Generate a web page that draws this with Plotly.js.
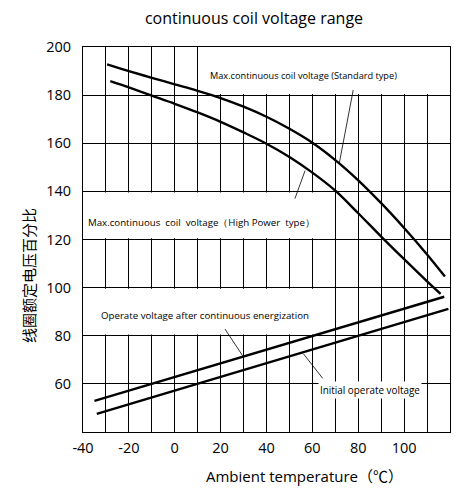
<!DOCTYPE html>
<html>
<head>
<meta charset="utf-8">
<script src="https://cdn.plot.ly/plotly-3.0.1.min.js"></script>
<style>html,body{margin:0;padding:0;background:#fff;}#chart{width:462px;height:488px;}</style>
</head>
<body>
<div id="chart"></div>
<script>
// Max. continuous coil voltage (Standard type)
const stdX = [-29.5, -20, -10, 0, 10, 20, 30, 40, 50, 60, 70, 80, 90, 100, 110, 117.8];
const stdY = [192.8, 190.0, 187.2, 184.5, 181.8, 178.8, 175.2, 171.0, 166.0, 160.2, 153.0, 144.6, 135.1, 124.8, 113.8, 104.6];
// Max. continuous coil voltage (High Power type)
const hpX = [-28.1, -20, -10, 0, 10, 20, 30, 40, 50, 60, 70, 80, 90, 100, 110, 115.9];
const hpY = [185.8, 183.2, 179.8, 176.4, 172.8, 168.9, 164.5, 159.8, 154.3, 147.8, 140.3, 130.9, 121.2, 111.8, 102.6, 97.4];
// Operate voltage after continuous energization
const opContX = [-35, -10, 20, 60, 117.5];
const opContY = [52.9, 60, 68.5, 80, 96.2];
// Initial operate voltage
const opInitX = [-34, 10, 40, 80, 119.3];
const opInitY = [47.5, 60, 68.5, 80, 91.2];

const xTicks = [-40, -20, 0, 20, 40, 60, 80, 100, 120];
const yTicks = [60, 80, 100, 120, 140, 160, 180, 200];

const labels = [
  {text: 'Max.continuous coil voltage (Standard type)', x: 56.1, y: 188.3, size: 9.2},
  {text: 'Max.continuous  coil  voltage（High Power  type）', x: 11.6, y: 126.9, size: 9.7},
  {text: 'Operate voltage after continuous energization', x: 13.3, y: 88.3, size: 9.7},
  {text: 'Initial operate voltage', x: 85.1, y: 57.4, size: 9.9, bg: true}
];
// leader lines [x0, y0, x1, y1]
const leaders = [
  [77.8, 182.1, 71.7, 151.5],
  [52.4, 137.0, 56.8, 148.6],
  [21.9, 82.8, 29.6, 71.7],
  [56.1, 72.5, 64.5, 62.3]
];
// white boxes behind labels [x0, x1, y0, y1]
const boxes = [
  [10.4, 120, 180.5, 200],
  [-40, 69.6, 120.5, 139.5],
  [-40, 69.6, 80.5, 99.5]
];

const lineStyle = {color: '#000', width: 2.4};
const traces = [
  {x: stdX, y: stdY, mode: 'lines', line: Object.assign({shape: 'spline', smoothing: 1}, lineStyle), name: 'Standard', hoverinfo: 'skip'},
  {x: hpX, y: hpY, mode: 'lines', line: Object.assign({shape: 'spline', smoothing: 1}, lineStyle), name: 'High Power', hoverinfo: 'skip'},
  {x: opContX, y: opContY, mode: 'lines', line: lineStyle, name: 'Operate', hoverinfo: 'skip'},
  {x: opInitX, y: opInitY, mode: 'lines', line: lineStyle, name: 'Initial', hoverinfo: 'skip'}
];

const font = '"Open Sans", "Noto Sans", sans-serif';
const shapes = [];
boxes.forEach(b => shapes.push({type: 'rect', xref: 'x', yref: 'y', x0: b[0], x1: b[1], y0: b[2], y1: b[3],
  fillcolor: '#fff', line: {width: 0}, layer: 'between'}));
leaders.forEach(l => shapes.push({type: 'line', xref: 'x', yref: 'y', x0: l[0], y0: l[1], x1: l[2], y1: l[3],
  line: {color: '#000', width: 0.8}}));

const annotations = labels.map(a => ({
  text: a.text, x: a.x, y: a.y, xref: 'x', yref: 'y', showarrow: false,
  font: {family: font, size: a.size, color: '#000'},
  bgcolor: a.bg ? '#fff' : 'rgba(0,0,0,0)', borderpad: 1
}));
annotations.push({
  text: 'Ambient temperature（℃）', xref: 'paper', yref: 'paper', x: (304 - 83) / 367, y: -(475 - 431) / 385,
  xanchor: 'center', yanchor: 'middle', showarrow: false,
  font: {family: '"Open Sans", "Noto Sans CJK SC", sans-serif', size: 15, color: '#000'}
});
annotations.push({
  text: '线圈额定电压百分比', xref: 'paper', yref: 'paper', x: -(83 - 28) / 367, y: (431 - 275) / 385,
  xanchor: 'center', yanchor: 'middle', showarrow: false, textangle: -90,
  font: {family: '"Noto Sans CJK SC", sans-serif', size: 15, color: '#000'}
});

const layout = {
  width: 462, height: 488,
  margin: {l: 83, r: 12, t: 47, b: 56},
  paper_bgcolor: '#fff', plot_bgcolor: '#fff',
  showlegend: false,
  title: {text: 'continuous coil voltage range', x: 254 / 462, xref: 'container', xanchor: 'center',
    y: 1 - 18 / 488, yref: 'container', yanchor: 'middle',
    font: {family: font, size: 16, color: '#000'}},
  xaxis: {range: [-40, 120], tickvals: xTicks, ticktext: xTicks.map(String), showgrid: true, gridcolor: '#000', gridwidth: 1,
    minor: {dtick: 10, tick0: 0, showgrid: true, gridcolor: '#000', gridwidth: 1},
    showline: true, mirror: true, linecolor: '#000', linewidth: 1, zeroline: false, ticks: '',
    ticklabelstandoff: 3,
    tickfont: {family: font, size: 14.5, color: '#000'}, fixedrange: true},
  yaxis: {range: [40, 200], tickvals: yTicks, ticktext: yTicks.map(String), showgrid: true, gridcolor: '#000', gridwidth: 1,
    showline: true, mirror: true, linecolor: '#000', linewidth: 1, zeroline: false, ticks: '',
    ticklabelstandoff: 8,
    tickfont: {family: font, size: 14.5, color: '#000'}, fixedrange: true},
  shapes: shapes,
  annotations: annotations
};

Plotly.newPlot('chart', traces, layout, {displayModeBar: false, staticPlot: true});
</script>
</body>
</html>
